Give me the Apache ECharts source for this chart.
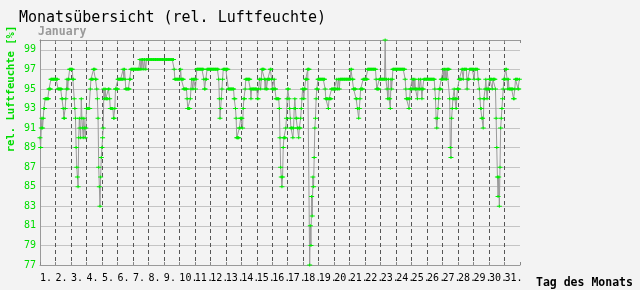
<!DOCTYPE html>
<html><head><meta charset="utf-8">
<script src="https://cdn.jsdelivr.net/npm/echarts@6/dist/echarts.min.js"></script>
<style>html,body{margin:0;padding:0;background:#f3f3f3;}#c{width:640px;height:290px;}</style>
</head><body><div id="c"></div>
<script>
// Hourly relative humidity (%) for each day of January
const d01 = [90,89,91,92,91,92,93,93,94,94,94,94,94,94,95,95,95,96,96,96,96,96,96,96];
const d02 = [96,96,96,96,95,95,95,95,95,95,94,94,93,92,92,93,94,95,96,95,96,96,97,97];
const d03 = [97,97,97,96,96,94,93,92,89,87,86,85,90,92,91,90,94,92,91,90,92,91,90,91];
const d04 = [93,93,93,93,93,93,95,96,96,96,96,97,97,97,96,96,95,94,92,87,85,83,86,88];
const d05 = [89,90,91,95,94,95,94,94,94,94,95,95,94,93,93,93,93,93,92,92,93,95,95,95];
const d06 = [95,96,96,96,96,96,96,96,96,97,96,97,96,95,95,95,95,95,95,96,96,97,97,97];
const d07 = [97,97,97,97,97,97,97,97,97,97,97,98,97,98,97,98,98,97,98,98,97,98,98,98];
const d08 = [98,98,98,98,98,98,98,98,98,98,98,98,98,98,98,98,98,98,98,98,98,98,98,98];
const d09 = [98,98,98,98,98,98,98,98,98,98,98,98,98,98,98,98,97,96,96,96,96,96,96,96];
const d10 = [96,96,97,96,96,96,96,95,95,95,95,95,94,93,93,93,93,94,95,96,96,95,96,96];
const d11 = [96,95,96,97,97,97,97,97,97,97,97,97,97,97,96,95,95,96,96,97,97,97,97,97];
const d12 = [97,97,97,97,97,97,97,97,97,97,97,97,97,96,94,92,93,94,95,96,97,97,97,97];
const d13 = [97,97,97,97,95,95,95,95,95,95,95,95,95,94,94,93,92,90,90,90,90,91,91,92];
const d14 = [92,92,91,93,94,94,95,96,96,96,96,96,96,96,95,94,95,95,95,95,95,95,95,95];
const d15 = [95,94,94,95,96,96,95,96,97,97,97,97,96,95,96,95,95,96,96,96,96,97,97,96];
const d16 = [95,95,95,96,95,95,94,94,94,94,94,93,90,87,86,85,86,89,90,90,90,91,92,94];
const d17 = [95,95,94,93,92,91,91,91,90,91,93,94,93,92,92,91,91,90,91,91,92,93,94,95];
const d18 = [95,94,95,95,96,96,96,97,97,97,77,81,79,84,82,86,85,88,91,92,94,95,95,96];
const d19 = [96,96,96,96,96,96,96,96,96,96,95,94,94,94,94,93,94,94,94,94,95,95,95,95];
const d20 = [95,95,95,95,96,95,95,96,95,96,96,96,96,96,96,96,96,96,96,96,96,96,96,96];
const d21 = [96,96,97,97,96,96,95,95,95,95,94,94,93,93,92,93,94,95,95,95,95,96,96,96];
const d22 = [96,96,96,96,97,97,97,97,97,97,97,97,97,97,97,97,97,96,95,95,95,95,96,96];
const d23 = [96,96,96,96,96,96,96,100,96,96,95,94,96,94,94,93,96,95,96,97,97,97,97,97];
const d24 = [97,97,97,97,97,97,97,97,97,97,97,97,97,97,96,95,94,94,94,94,93,94,95,95];
const d25 = [95,96,95,96,95,96,95,95,95,94,95,96,95,95,96,95,94,95,95,96,96,96,96,96];
const d26 = [96,96,96,96,96,96,96,96,96,96,96,96,95,94,92,91,92,93,94,95,95,95,96,96];
const d27 = [96,97,96,97,96,97,96,97,97,97,97,94,89,88,92,93,94,94,95,94,94,93,94,95];
const d28 = [95,95,96,96,96,96,97,97,96,97,97,97,97,97,95,96,96,96,97,97,97,97,97,97];
const d29 = [97,96,97,97,97,97,97,96,96,95,94,93,93,92,92,91,94,94,95,96,95,94,95,95];
const d30 = [95,96,96,96,96,95,96,96,96,96,95,92,89,86,84,86,83,87,91,92,93,94,95,96];
const d31 = [96,96,97,97,96,95,96,95,95,95,95,95,95,95,94,94,95,96,96,96,96,95,95,96];

const dayLabels = ['1.','2.','3.','4.','5.','6.','7.','8.','9.','10.','11.','12.','13.','14.','15.','16.','17.','18.','19.','20.','21.','22.','23.','24.','25.','26.','27.','28.','29.','30.','31.'];
const yTickLabels = [77,79,81,83,85,87,89,91,93,95,97,99];

const days = [d01,d02,d03,d04,d05,d06,d07,d08,d09,d10,d11,d12,d13,d14,d15,d16,d17,d18,d19,d20,d21,d22,d23,d24,d25,d26,d27,d28,d29,d30,d31];
const values = [].concat(...days);
const data = values.map((v, i) => [i, v]);
const HOURS = days.length * 24;

const mono = '"DejaVu Sans Mono", monospace';
const green = '#00dd00';

const chart = echarts.init(document.getElementById('c'), null, {renderer: 'canvas'});
chart.setOption({
  animation: false,
  backgroundColor: '#f3f3f3',
  grid: {left: 40, right: 120, top: 40, bottom: 25, containLabel: false},
  xAxis: [{
    type: 'value', min: 0, max: HOURS, interval: 24, position: 'bottom',
    axisLine: {show: true, lineStyle: {color: '#999', width: 1}},
    axisTick: {show: true, inside: true, length: 3, lineStyle: {color: '#888'}},
    axisLabel: {
      show: true, margin: 8, align: 'left', color: '#000',
      fontFamily: mono, fontSize: 10,
      formatter: v => { const k = Math.round(v / 24); return k < dayLabels.length ? dayLabels[k] : ''; }
    },
    splitLine: {show: true, showMinLine: false, showMaxLine: false, lineStyle: {color: '#555', width: 1, type: [4, 3]}}
  }, {
    type: 'value', min: 0, max: HOURS, interval: 24, position: 'top',
    axisLine: {show: true, lineStyle: {color: '#999', width: 1}},
    axisTick: {show: true, inside: true, length: 3, lineStyle: {color: '#888'}},
    axisLabel: {show: false}, splitLine: {show: false}
  }],
  yAxis: [{
    type: 'value', min: 77, max: 100, interval: 1, position: 'left',
    axisLine: {show: true, lineStyle: {color: '#999', width: 1}},
    axisTick: {show: false},
    axisLabel: {
      show: true, margin: 4, color: green, fontFamily: mono, fontSize: 10,
      formatter: v => yTickLabels.indexOf(v) >= 0 ? String(v) : ''
    },
    splitLine: {show: true, lineStyle: {color: ['#c4c4c4', 'rgba(0,0,0,0)'], width: 1}}
  }, {
    type: 'value', min: 77, max: 100, position: 'right',
    axisLine: {show: true, lineStyle: {color: '#999', width: 1}},
    axisTick: {show: false}, axisLabel: {show: false}, splitLine: {show: false}
  }],
  series: [{
    type: 'line',
    data: data,
    xAxisIndex: 0, yAxisIndex: 0,
    showSymbol: true, showAllSymbol: true,
    symbol: 'path://M0,1h5v1h-5z M2,0h1v3h-1z',
    symbolSize: [5, 3],
    lineStyle: {color: '#9a9a9a', width: 1},
    itemStyle: {color: '#00ee00', borderWidth: 0},
    clip: false
  }],
  graphic: [
    {type: 'text', left: 19, top: 11, style: {text: 'Monatsübersicht (rel. Luftfeuchte)', font: '15px ' + mono, fill: '#000'}},
    {type: 'text', left: 38, top: 26, style: {text: 'January', font: 'bold 11.5px ' + mono, fill: '#999'}},
    {type: 'text', x: 11, y: 89, rotation: Math.PI / 2, style: {text: 'rel. Luftfeuchte [%]', font: 'bold 10.5px ' + mono, fill: green, align: 'center', verticalAlign: 'middle'}},
    {type: 'text', left: 536, top: 277, style: {text: 'Tag des Monats', font: 'bold 11.5px ' + mono, fill: '#000'}}
  ]
});
</script></body></html>
